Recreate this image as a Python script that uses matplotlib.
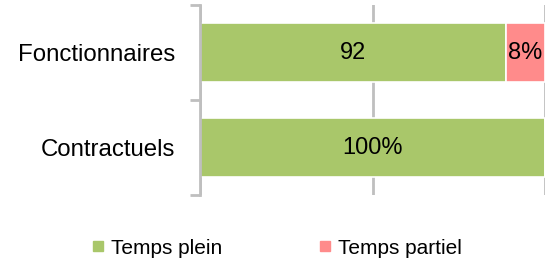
import matplotlib
matplotlib.use("Agg")
import matplotlib.pyplot as plt
from matplotlib.lines import Line2D

categories = ["Fonctionnaires", "Contractuels"]
temps_plein = [88.7, 100]
temps_partiel = [11.3, 0]
labels_plein = ["92", "100%"]
labels_partiel = ["8%", ""]
series_names = ["Temps plein", "Temps partiel"]

green = "#A9C76A"
pink = "#FF8B8B"
grey = "#BFBFBF"

plt.rcParams['font.family'] = ['Liberation Sans', 'DejaVu Sans']

fig = plt.figure(figsize=(5.55, 2.61), dpi=100)
ax = fig.add_axes([200/555, 1-195/261, 345/555, 190/261])

y = list(range(len(categories)))
h = 0.63
b1 = ax.barh(y, temps_plein, height=h, color=green, edgecolor="white", linewidth=1.2, zorder=2)
b2 = ax.barh(y, temps_partiel, left=temps_plein, height=h, color=pink, edgecolor="white", linewidth=1.2, zorder=2)

for i in y:
    ax.text(temps_plein[i]/2, i + 0.01, labels_plein[i], ha="center", va="center", fontsize=17, color="black", zorder=3)
    if labels_partiel[i]:
        ax.text(temps_plein[i] + temps_partiel[i]/2, i + 0.01, labels_partiel[i], ha="center", va="center", fontsize=17, color="black", zorder=3)

ax.set_xlim(0, 100)
ax.set_ylim(len(categories)-0.5, -0.5)
ax.set_xticks([0, 50, 100])
ax.tick_params(axis="x", length=0, labelbottom=False)
ax.xaxis.grid(True, color=grey, linewidth=2, zorder=0)
ax.set_axisbelow(True)

ax.set_yticks(y)
ax.set_yticklabels(categories, fontsize=17.3)
ax.set_yticks([-0.5, 0.5, 1.5], minor=True)
ax.tick_params(axis="y", which="major", length=0, pad=18)
ax.tick_params(axis="y", which="minor", length=7, width=2, color=grey)

for s in ["top", "right", "bottom"]:
    ax.spines[s].set_visible(False)
ax.spines["left"].set_color(grey)
ax.spines["left"].set_linewidth(2)

handles = [Line2D([], [], marker="s", linestyle="none", markersize=7.5, color=green),
           Line2D([], [], marker="s", linestyle="none", markersize=7.5, color=pink)]
fig.legend(handles, series_names, loc="center", bbox_to_anchor=(0.5, 1-248/261), ncol=2,
           frameon=False, fontsize=15, handlelength=0.5, handletextpad=0.35, columnspacing=4.7,
           borderpad=0, borderaxespad=0)

fig.savefig("out.png", dpi=100)
